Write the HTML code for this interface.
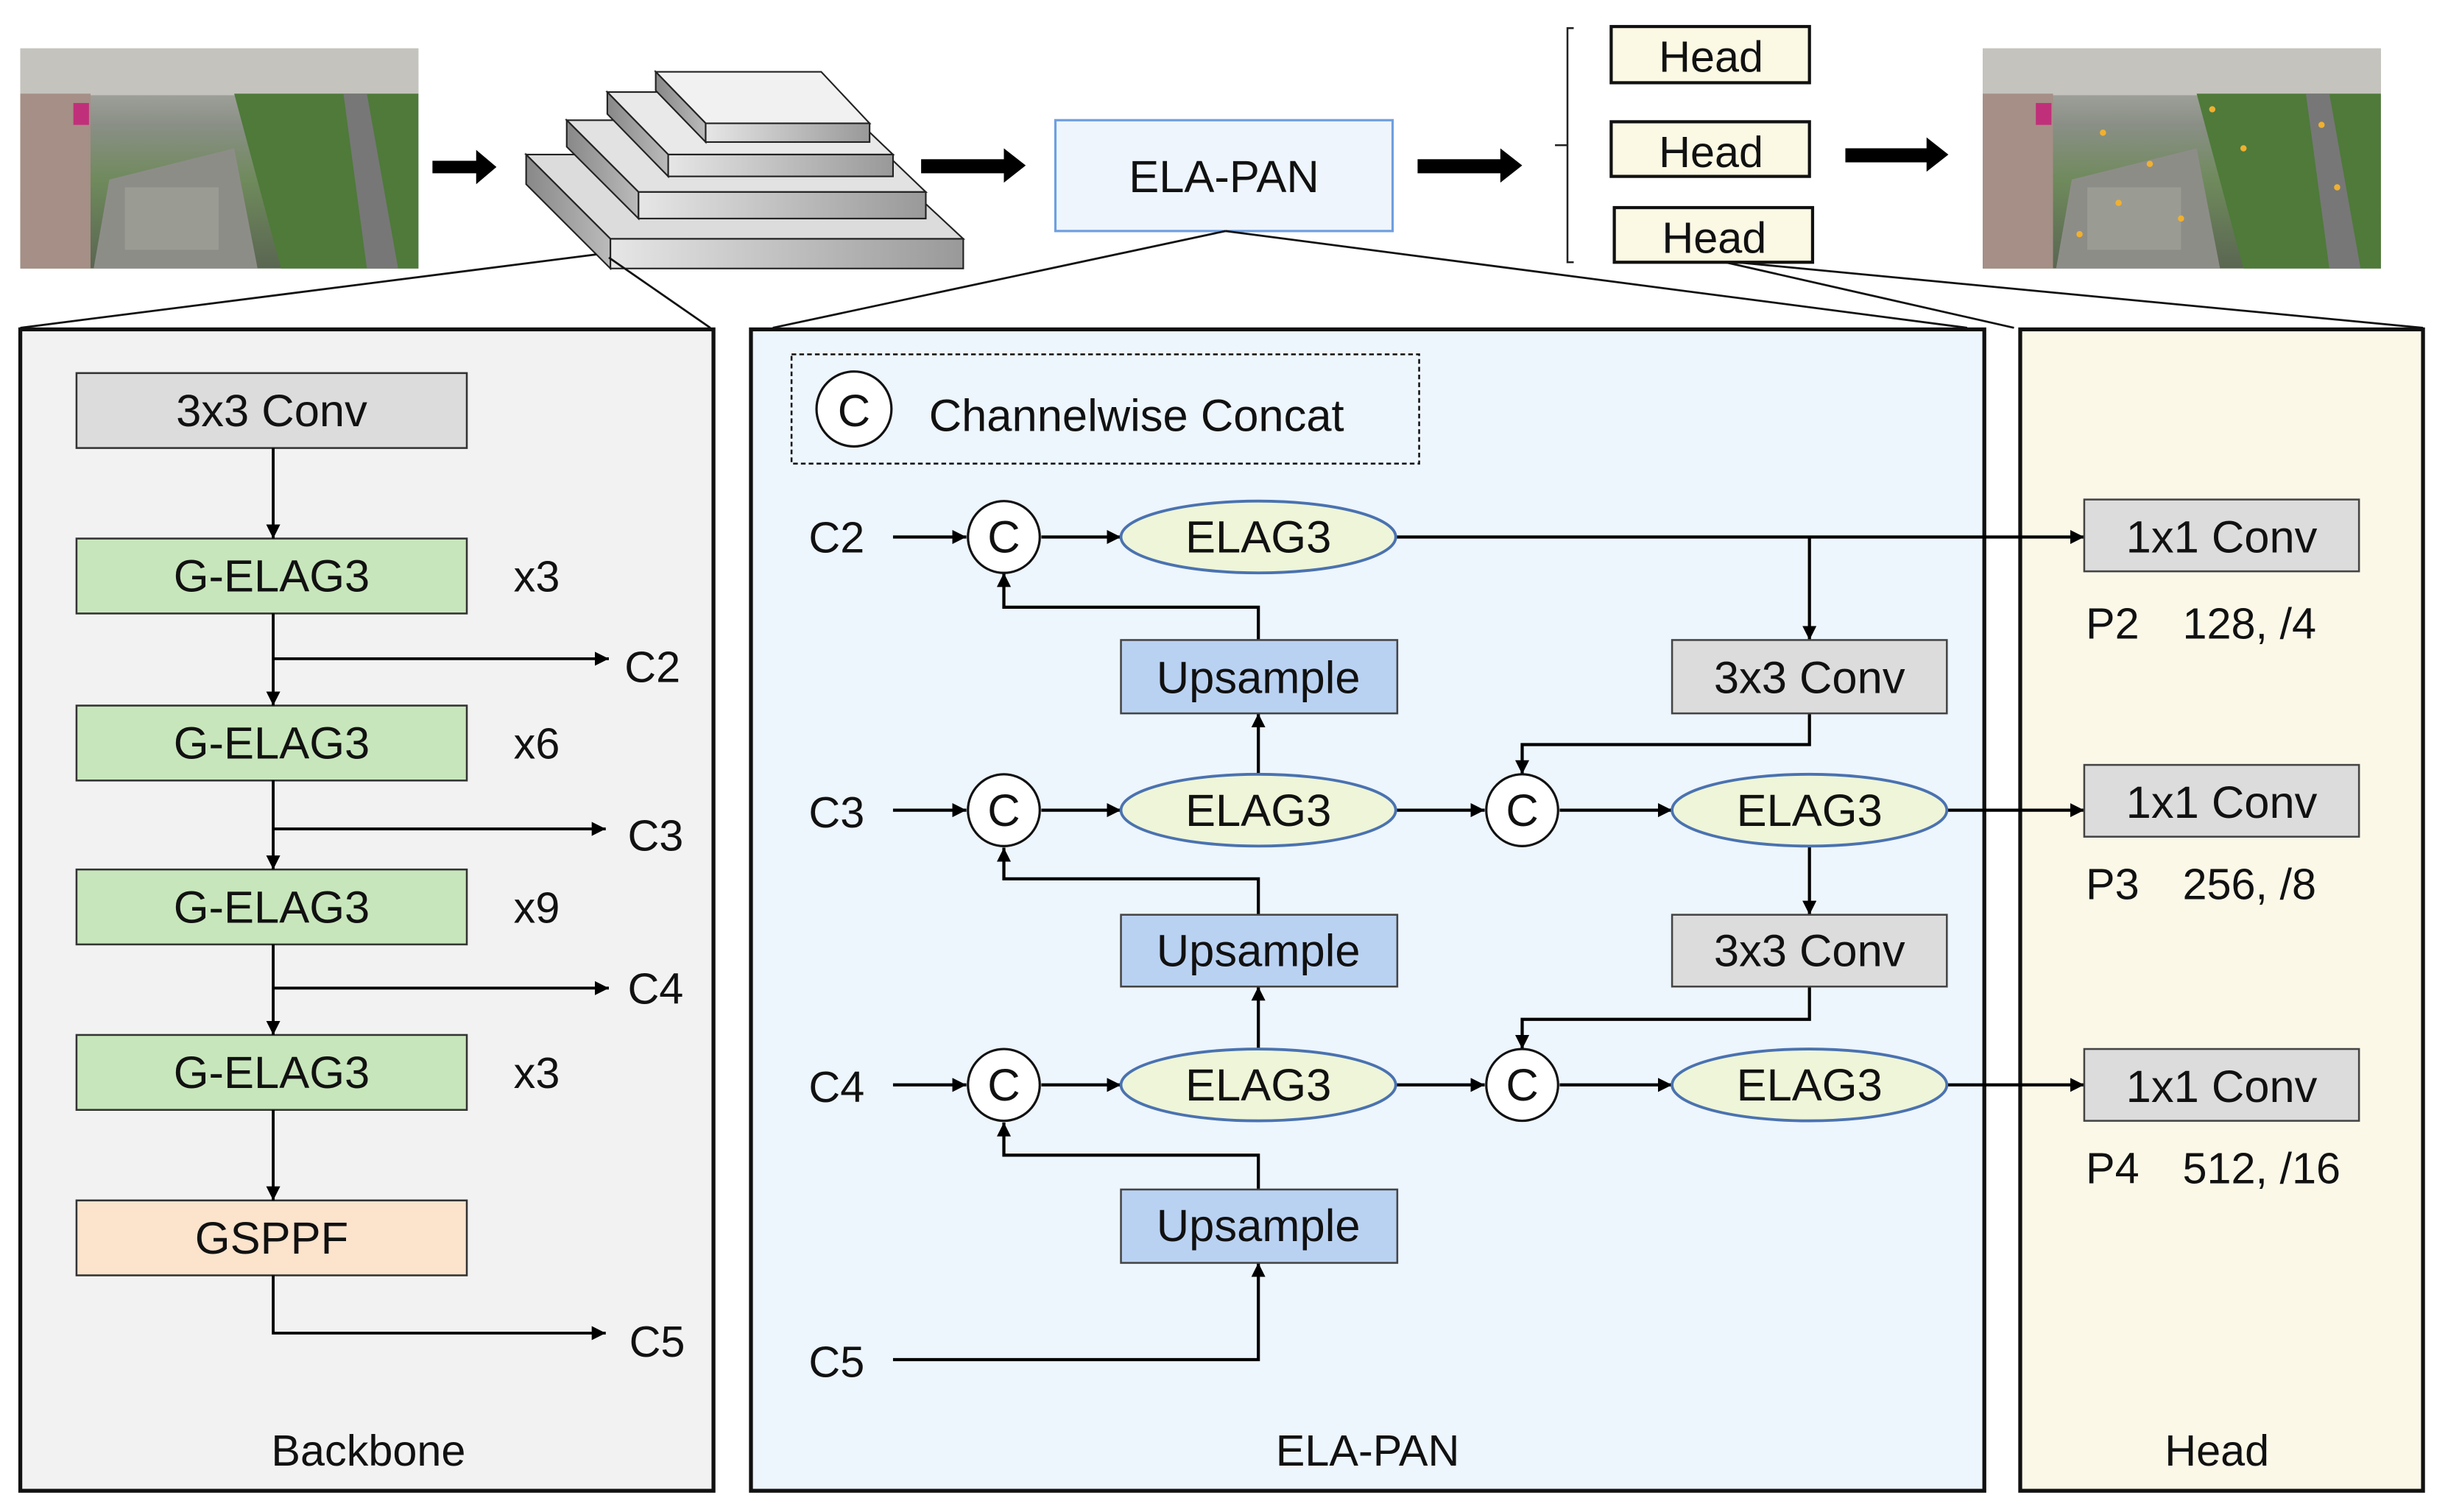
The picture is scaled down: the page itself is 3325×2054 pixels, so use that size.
<!DOCTYPE html>
<html><head><meta charset="utf-8"><style>
html,body{margin:0;padding:0;background:#fff;}
svg{display:block;}
text{font-family:"Liberation Sans",Arial,sans-serif;fill:#111;}
</style></head><body>
<svg width="3325" height="2054" viewBox="0 0 1568 968.6" preserveAspectRatio="none" xmlns="http://www.w3.org/2000/svg">
<defs>
<marker id="a" viewBox="0 0 10 10" refX="10" refY="5" markerWidth="9" markerHeight="9" markerUnits="userSpaceOnUse" orient="auto"><path d="M0,0 L10,5 L0,10 z" fill="#000"/></marker>
<linearGradient id="sky" x1="0" y1="0" x2="0" y2="1"><stop offset="0" stop-color="#b9b9b3"/><stop offset="0.35" stop-color="#8a8f86"/><stop offset="0.6" stop-color="#6f8a5c"/><stop offset="1" stop-color="#5a6652"/></linearGradient>
<linearGradient id="side" x1="0" y1="0" x2="1" y2="0"><stop offset="0" stop-color="#888"/><stop offset="1" stop-color="#bbb"/></linearGradient>
<linearGradient id="face" x1="0" y1="0" x2="1" y2="0"><stop offset="0" stop-color="#e6e6e6"/><stop offset="1" stop-color="#999"/></linearGradient>
</defs>

<g id="img1">
<rect x="13" y="31" width="255" height="141" fill="url(#sky)"/>
<rect x="13" y="31" width="255" height="30" fill="#c4c3bd"/>
<rect x="13" y="60" width="45" height="112" fill="#a58f86"/>
<rect x="47" y="66" width="10" height="14" fill="#c0307a"/>
<polygon points="70,115 150,95 165,172 60,172" fill="#8d8d88"/>
<rect x="80" y="120" width="60" height="40" fill="#9a9c94"/>
<polygon points="150,60 268,60 268,172 180,172" fill="#4f7a3a"/>
<polygon points="220,60 235,60 255,172 235,172" fill="#777"/>
</g>
<g transform="translate(1257,0)">
<rect x="13" y="31" width="255" height="141" fill="url(#sky)"/>
<rect x="13" y="31" width="255" height="30" fill="#c4c3bd"/>
<rect x="13" y="60" width="45" height="112" fill="#a58f86"/>
<rect x="47" y="66" width="10" height="14" fill="#c0307a"/>
<polygon points="70,115 150,95 165,172 60,172" fill="#8d8d88"/>
<rect x="80" y="120" width="60" height="40" fill="#9a9c94"/>
<polygon points="150,60 268,60 268,172 180,172" fill="#4f7a3a"/>
<polygon points="220,60 235,60 255,172 235,172" fill="#777"/>
<g fill="#f0b030"><circle cx="90" cy="85" r="2"/><circle cx="120" cy="105" r="2"/><circle cx="100" cy="130" r="2"/><circle cx="140" cy="140" r="2"/><circle cx="180" cy="95" r="2"/><circle cx="230" cy="80" r="2"/><circle cx="240" cy="120" r="2"/><circle cx="160" cy="70" r="2"/><circle cx="75" cy="150" r="2"/></g>
</g>

<g stroke="#222" stroke-width="1">
<polygon points="337,99 559,99 617,153 391,153" fill="#dcdcdc"/>
<polygon points="337,99 391,153 391,172 337,118" fill="url(#side)"/>
<rect x="391" y="153" width="226" height="19" fill="url(#face)"/>
<polygon points="363,77 545,77 593,123 409,123" fill="#e2e2e2"/>
<polygon points="363,77 409,123 409,140 363,94" fill="url(#side)"/>
<rect x="409" y="123" width="184" height="17" fill="url(#face)"/>
<polygon points="389,59 530,59 572,99 428,99" fill="#e9e9e9"/>
<polygon points="389,59 428,99 428,113 389,73" fill="url(#side)"/>
<rect x="428" y="99" width="144" height="14" fill="url(#face)"/>
<polygon points="420,46 526,46 557,79 452,79" fill="#f1f1f1"/>
<polygon points="420,46 452,79 452,91 420,58" fill="url(#side)"/>
<rect x="452" y="79" width="105" height="12" fill="url(#face)"/>
</g>

<g fill="#000">
<rect x="277" y="103" width="30" height="8"/><polygon points="305,96 318,107 305,118"/>
<rect x="590" y="102" width="55" height="9"/><polygon points="643,95 657,106 643,117"/>
<rect x="908" y="102" width="55" height="9"/><polygon points="961,95 975,106 961,117"/>
<rect x="1182" y="95" width="54" height="9"/><polygon points="1234,88 1248,99 1234,110"/>
</g>

<rect x="676" y="77" width="216" height="71" fill="#eef5fd" stroke="#6f9fe0" stroke-width="1.5"/>
<text x="784" y="123" font-size="29" text-anchor="middle">ELA-PAN</text>

<path d="M1008,18 L1004,18 L1004,168 L1008,168 M1004,93 L996,93" fill="none" stroke="#222" stroke-width="1.2"/>
<g stroke="#111" stroke-width="2" fill="#fbf8e4">
<rect x="1032" y="17" width="127" height="36"/>
<rect x="1032" y="78" width="127" height="35"/>
<rect x="1034" y="133" width="127" height="35"/>
</g>
<g font-size="28" text-anchor="middle"><text x="1096" y="46">Head</text><text x="1096" y="107">Head</text><text x="1098" y="162">Head</text></g>

<g stroke="#111" stroke-width="1.3" fill="none">
<line x1="382" y1="163" x2="13" y2="210"/>
<line x1="390" y1="165" x2="455" y2="210"/>
<line x1="785" y1="148" x2="495" y2="210"/>
<line x1="785" y1="148" x2="1260" y2="210"/>
<line x1="1105" y1="168" x2="1290" y2="210"/>
<line x1="1112" y1="168" x2="1552" y2="210"/>
</g>

<rect x="13" y="211" width="444" height="744" fill="#f2f2f2" stroke="#111" stroke-width="2.5"/>
<rect x="481" y="211" width="790" height="744" fill="#edf5fd" stroke="#111" stroke-width="2.5"/>
<rect x="1294" y="211" width="258" height="744" fill="#fbf8e8" stroke="#111" stroke-width="2.5"/>

<g stroke="#333" stroke-width="1.2">
<rect x="49" y="239" width="250" height="48" fill="#dcdcdc"/>
<rect x="49" y="345" width="250" height="48" fill="#c8e6bb"/>
<rect x="49" y="452" width="250" height="48" fill="#c8e6bb"/>
<rect x="49" y="557" width="250" height="48" fill="#c8e6bb"/>
<rect x="49" y="663" width="250" height="48" fill="#c8e6bb"/>
<rect x="49" y="769" width="250" height="48" fill="#fbe3cc"/>
</g>
<g font-size="29" text-anchor="middle">
<text x="174" y="273">3x3 Conv</text>
<text x="174" y="379">G-ELAG3</text>
<text x="174" y="486">G-ELAG3</text>
<text x="174" y="591">G-ELAG3</text>
<text x="174" y="697">G-ELAG3</text>
<text x="174" y="803">GSPPF</text>
</g>
<g font-size="28">
<text x="329" y="379">x3</text><text x="329" y="486">x6</text><text x="329" y="591">x9</text><text x="329" y="697">x3</text>
<text x="400" y="437">C2</text><text x="402" y="545">C3</text><text x="402" y="643">C4</text><text x="403" y="869">C5</text>
</g>
<g stroke="#000" stroke-width="1.8" fill="none" marker-end="url(#a)">
<line x1="175" y1="287" x2="175" y2="345"/>
<line x1="175" y1="393" x2="175" y2="452"/>
<line x1="175" y1="500" x2="175" y2="557"/>
<line x1="175" y1="605" x2="175" y2="663"/>
<line x1="175" y1="711" x2="175" y2="769"/>
<line x1="175" y1="422" x2="390" y2="422"/>
<line x1="175" y1="531" x2="388" y2="531"/>
<line x1="175" y1="633" x2="390" y2="633"/>
<polyline points="175,817 175,854 388,854"/>
</g>
<text x="236" y="939" font-size="28" text-anchor="middle">Backbone</text>

<rect x="507" y="227" width="402" height="70" fill="none" stroke="#111" stroke-width="1.2" stroke-dasharray="3,2"/>
<circle cx="547" cy="262" r="24" fill="#fff" stroke="#111" stroke-width="1.5"/>
<text x="547" y="273" font-size="29" text-anchor="middle">C</text>
<text x="595" y="276" font-size="29">Channelwise Concat</text>

<g stroke="#000" stroke-width="2" fill="none">
<line x1="572" y1="344" x2="619" y2="344" marker-end="url(#a)"/>
<line x1="667" y1="344" x2="718" y2="344" marker-end="url(#a)"/>
<line x1="894" y1="344" x2="1335" y2="344" marker-end="url(#a)"/>
<line x1="1159" y1="344" x2="1159" y2="410" marker-end="url(#a)"/>
<polyline points="806,410 806,389 643,389 643,367" marker-end="url(#a)"/>
<polyline points="1159,457 1159,477 975,477 975,496" marker-end="url(#a)"/>

<line x1="572" y1="519" x2="619" y2="519" marker-end="url(#a)"/>
<line x1="667" y1="519" x2="718" y2="519" marker-end="url(#a)"/>
<line x1="806" y1="496" x2="806" y2="457" marker-end="url(#a)"/>
<line x1="894" y1="519" x2="951" y2="519" marker-end="url(#a)"/>
<line x1="999" y1="519" x2="1071" y2="519" marker-end="url(#a)"/>
<line x1="1247" y1="519" x2="1335" y2="519" marker-end="url(#a)"/>
<line x1="1159" y1="542" x2="1159" y2="586" marker-end="url(#a)"/>
<polyline points="806,586 806,563 643,563 643,543" marker-end="url(#a)"/>
<polyline points="1159,632 1159,653 975,653 975,672" marker-end="url(#a)"/>

<line x1="572" y1="695" x2="619" y2="695" marker-end="url(#a)"/>
<line x1="667" y1="695" x2="718" y2="695" marker-end="url(#a)"/>
<line x1="806" y1="672" x2="806" y2="632" marker-end="url(#a)"/>
<line x1="894" y1="695" x2="951" y2="695" marker-end="url(#a)"/>
<line x1="999" y1="695" x2="1071" y2="695" marker-end="url(#a)"/>
<line x1="1247" y1="695" x2="1335" y2="695" marker-end="url(#a)"/>
<polyline points="806,762 806,740 643,740 643,719" marker-end="url(#a)"/>
<polyline points="572,871 806,871 806,809" marker-end="url(#a)"/>
</g>

<g stroke="#111" stroke-width="1.5" fill="#fff">
<circle cx="643" cy="344" r="23"/><circle cx="643" cy="519" r="23"/><circle cx="643" cy="695" r="23"/>
<circle cx="975" cy="519" r="23"/><circle cx="975" cy="695" r="23"/>
</g>
<g stroke="#4a72b0" stroke-width="1.8" fill="#eef5d8">
<ellipse cx="806" cy="344" rx="88" ry="23"/><ellipse cx="806" cy="519" rx="88" ry="23"/><ellipse cx="806" cy="695" rx="88" ry="23"/>
<ellipse cx="1159" cy="519" rx="88" ry="23"/><ellipse cx="1159" cy="695" rx="88" ry="23"/>
</g>
<g stroke="#444" stroke-width="1.2">
<rect x="718" y="410" width="177" height="47" fill="#bad2f2"/>
<rect x="718" y="586" width="177" height="46" fill="#bad2f2"/>
<rect x="718" y="762" width="177" height="47" fill="#bad2f2"/>
<rect x="1071" y="410" width="176" height="47" fill="#dcdcdc"/>
<rect x="1071" y="586" width="176" height="46" fill="#dcdcdc"/>
<rect x="1335" y="320" width="176" height="46" fill="#dcdcdc"/>
<rect x="1335" y="490" width="176" height="46" fill="#dcdcdc"/>
<rect x="1335" y="672" width="176" height="46" fill="#dcdcdc"/>
</g>
<g font-size="29" text-anchor="middle">
<text x="643" y="354">C</text><text x="643" y="529">C</text><text x="643" y="705">C</text>
<text x="975" y="529">C</text><text x="975" y="705">C</text>
<text x="806" y="354">ELAG3</text><text x="806" y="529">ELAG3</text><text x="806" y="705">ELAG3</text>
<text x="1159" y="529">ELAG3</text><text x="1159" y="705">ELAG3</text>
<text x="806" y="444">Upsample</text><text x="806" y="619">Upsample</text><text x="806" y="795">Upsample</text>
<text x="1159" y="444">3x3 Conv</text><text x="1159" y="619">3x3 Conv</text>
<text x="1423" y="354">1x1 Conv</text><text x="1423" y="524">1x1 Conv</text><text x="1423" y="706">1x1 Conv</text>
</g>
<g font-size="28">
<text x="518" y="354">C2</text><text x="518" y="530">C3</text><text x="518" y="706">C4</text><text x="518" y="882">C5</text>
<text x="1336" y="409">P2</text><text x="1398" y="409">128, /4</text>
<text x="1336" y="576">P3</text><text x="1398" y="576">256, /8</text>
<text x="1336" y="758">P4</text><text x="1398" y="758">512, /16</text>
</g>
<text x="876" y="939" font-size="28" text-anchor="middle">ELA-PAN</text>
<text x="1420" y="939" font-size="28" text-anchor="middle">Head</text>
</svg>
</body></html>
